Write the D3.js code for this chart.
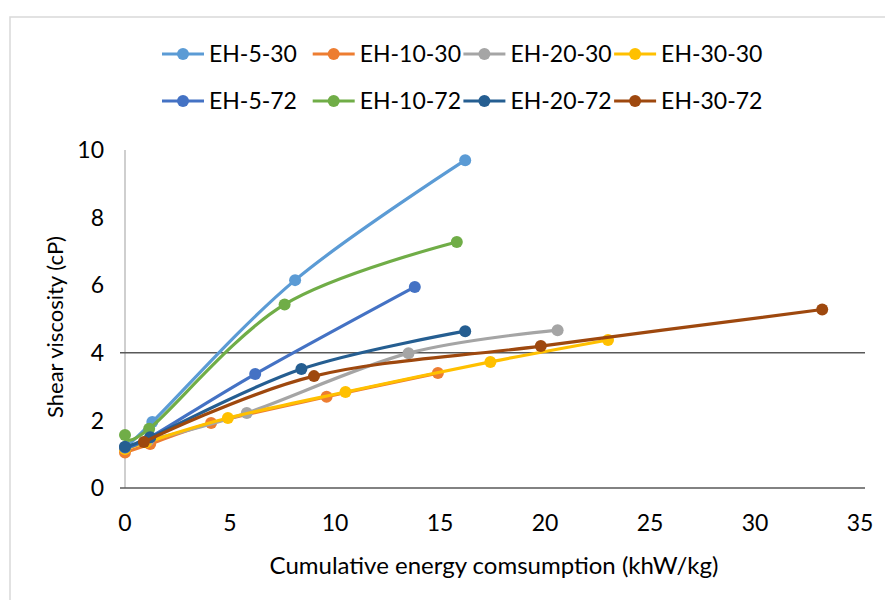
<!DOCTYPE html>
<html>
<head>
<meta charset="utf-8">
<script src="https://cdn.jsdelivr.net/npm/d3@7"></script>
<style>
  body { margin: 0; background: #fff; }
  svg { display: block; font-family: Lato, "Open Sans", sans-serif; }
</style>
</head>
<body>
<svg id="chart"></svg>
<script>
// series names and colours (Excel office palette)
const names = ["EH-5-30", "EH-10-30", "EH-20-30", "EH-30-30", "EH-5-72", "EH-10-72", "EH-20-72", "EH-30-72"];
const colors = ["#5B9BD5", "#ED7D31", "#A5A5A5", "#FFC000", "#4472C4", "#70AD47", "#255E91", "#9E480E"];

// energy (x) and viscosity (y)
const eh530x = [0, 1.3, 8.1, 16.2];
const eh530y = [1.2, 1.95, 6.15, 9.7];
const eh1030x = [0, 1.2, 4.1, 9.6, 14.9];
const eh1030y = [1.05, 1.3, 1.92, 2.7, 3.4];
const eh2030x = [0, 1.1, 5.8, 13.5, 20.6];
const eh2030y = [1.2, 1.4, 2.22, 3.99, 4.67];
const eh3030x = [0, 1.0, 4.9, 10.5, 17.4, 23.0];
const eh3030y = [1.15, 1.35, 2.07, 2.84, 3.73, 4.38];
const eh572x = [0, 1.2, 6.2, 13.8];
const eh572y = [1.2, 1.5, 3.37, 5.95];
const eh1072x = [0, 1.15, 7.6, 15.8];
const eh1072y = [1.57, 1.75, 5.43, 7.28];
const eh2072x = [0, 1.2, 8.4, 16.2];
const eh2072y = [1.22, 1.5, 3.52, 4.64];
const eh3072x = [0.9, 9.0, 19.8, 33.2];
const eh3072y = [1.36, 3.31, 4.2, 5.28];

const xTicks = [0, 5, 10, 15, 20, 25, 30, 35];
const yTicks = [0, 2, 4, 6, 8, 10];
const refLine = 4;

const seriesX = [eh530x, eh1030x, eh2030x, eh3030x, eh572x, eh1072x, eh2072x, eh3072x];
const seriesY = [eh530y, eh1030y, eh2030y, eh3030y, eh572y, eh1072y, eh2072y, eh3072y];

const width = 885;
const height = 600;

const svg = d3.select("#chart").attr("width", width).attr("height", height);

// outer chart border
svg.append("rect")
  .attr("x", 10).attr("y", 17)
  .attr("width", width).attr("height", height)
  .attr("fill", "none")
  .attr("stroke", "#d9d9d9")
  .attr("stroke-width", 1.5);

const x = d3.scaleLinear().domain([0, 35]).range([125, 860]);
const y = d3.scaleLinear().domain([0, 10]).range([488, 150]);

// vertical axis line
svg.append("line")
  .attr("x1", x(0)).attr("x2", x(0))
  .attr("y1", y(10)).attr("y2", y(0))
  .attr("stroke", "#bfbfbf")
  .attr("stroke-width", 1.5);

// bottom line and the line at 4 cP
svg.append("line")
  .attr("x1", x(0) - 5).attr("x2", 865)
  .attr("y1", y(0)).attr("y2", y(0))
  .attr("stroke", "#595959")
  .attr("stroke-width", 1.5);

svg.append("line")
  .attr("x1", x(0) - 5).attr("x2", 865)
  .attr("y1", y(refLine)).attr("y2", y(refLine))
  .attr("stroke", "#595959")
  .attr("stroke-width", 1.5);

// tick labels
svg.append("g")
  .selectAll("text")
  .data(yTicks)
  .join("text")
  .attr("x", 104)
  .attr("y", d => y(d))
  .attr("dy", "0.36em")
  .attr("text-anchor", "end")
  .attr("font-size", 23)
  .attr("fill", "#000")
  .text(d => d);

svg.append("g")
  .selectAll("text")
  .data(xTicks)
  .join("text")
  .attr("x", d => x(d))
  .attr("y", 523)
  .attr("dy", "0.36em")
  .attr("text-anchor", "middle")
  .attr("font-size", 23)
  .attr("fill", "#000")
  .text(d => d);

// axis titles
svg.append("text")
  .attr("x", 494)
  .attr("y", 565)
  .attr("dy", "0.36em")
  .attr("text-anchor", "middle")
  .attr("font-size", 24)
  .attr("fill", "#000")
  .text("Cumulative energy comsumption (khW/kg)");

svg.append("text")
  .attr("transform", "translate(55,327) rotate(-90)")
  .attr("dy", "0.36em")
  .attr("text-anchor", "middle")
  .attr("font-size", 22)
  .attr("fill", "#000")
  .text("Shear viscosity (cP)");

// smoothed lines like excel's "smoothed line" option
const line = d3.line()
  .x(d => x(d[0]))
  .y(d => y(d[1]))
  .curve(d3.curveCatmullRom.alpha(0));

const series = names.map((name, i) => ({
  name,
  color: colors[i],
  points: seriesX[i].map((v, j) => [v, seriesY[i][j]])
}));

const groups = svg.append("g")
  .selectAll("g")
  .data(series)
  .join("g");

groups.append("path")
  .attr("d", d => line(d.points))
  .attr("fill", "none")
  .attr("stroke", d => d.color)
  .attr("stroke-width", 3.2)
  .attr("stroke-linecap", "round");

groups.selectAll("circle")
  .data(d => d.points.map(p => ({ p, color: d.color })))
  .join("circle")
  .attr("cx", d => x(d.p[0]))
  .attr("cy", d => y(d.p[1]))
  .attr("r", 6)
  .attr("fill", d => d.color);

// legend, two rows of four
const legend = svg.append("g")
  .selectAll("g")
  .data(series)
  .join("g")
  .attr("transform", (d, i) => `translate(${162 + (i % 4) * 150.7},${i < 4 ? 54 : 101})`);

legend.append("line")
  .attr("x1", 0).attr("x2", 42)
  .attr("stroke", d => d.color)
  .attr("stroke-width", 3);

legend.append("circle")
  .attr("cx", 21)
  .attr("r", 6)
  .attr("fill", d => d.color);

legend.append("text")
  .attr("x", 47)
  .attr("dy", "0.36em")
  .attr("font-size", 23)
  .attr("fill", "#000")
  .text(d => d.name);
</script>
</body>
</html>
